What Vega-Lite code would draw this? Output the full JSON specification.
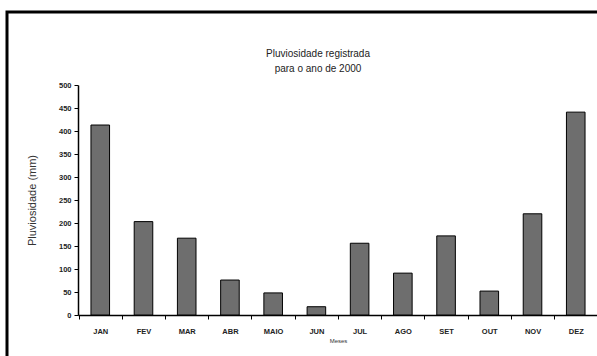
{
  "$schema": "https://vega.github.io/schema/vega-lite/v6.json",
  "width": 600,
  "height": 360,
  "autosize": {"type": "none"},
  "padding": {"left": 7, "top": 12, "right": -10, "bottom": -16},
  "background": "white",
  "title": {
    "text": ["Pluviosidade registrada", "para o ano de 2000"],
    "offset": -62,
    "dx": 11,
    "fontSize": 10,
    "font": "Liberation Sans",
    "fontWeight": "normal",
    "color": "#222222",
    "lineHeight": 15
  },
  "data": {
    "values": [
      {"mes": "JAN", "chuva": 413},
      {"mes": "FEV", "chuva": 203},
      {"mes": "MAR", "chuva": 167},
      {"mes": "ABR", "chuva": 76},
      {"mes": "MAIO", "chuva": 48},
      {"mes": "JUN", "chuva": 18},
      {"mes": "JUL", "chuva": 156},
      {"mes": "AGO", "chuva": 91},
      {"mes": "SET", "chuva": 172},
      {"mes": "OUT", "chuva": 52},
      {"mes": "NOV", "chuva": 220},
      {"mes": "DEZ", "chuva": 441}
    ]
  },
  "mark": {"type": "bar", "fill": "#6e6e6e", "stroke": "black", "strokeWidth": 1},
  "encoding": {
    "x": {
      "field": "mes",
      "type": "nominal",
      "sort": null,
      "scale": {"range": [71, 591], "paddingInner": 0.57, "paddingOuter": 0.3},
      "axis": {
        "offset": -57,
        "title": "Meses",
        "titleFontSize": 6,
        "titleFont": "Liberation Sans",
        "titleFontWeight": "normal",
        "titleColor": "#333333",
        "titlePadding": 3,
        "labelAngle": 0,
        "labelFontSize": 7.5,
        "labelFont": "Liberation Sans",
        "labelFontWeight": "bold",
        "labelColor": "#222222",
        "labelPadding": 8,
        "tickOffset": -21.7,
        "labelOffset": 21.7,
        "tickSize": 4,
        "tickColor": "black",
        "domainColor": "black",
        "domainWidth": 1.5,
        "grid": false
      }
    },
    "y": {
      "field": "chuva",
      "type": "quantitative",
      "scale": {"domain": [0, 500], "range": [303, 73], "nice": false},
      "axis": {
        "offset": -71,
        "title": "Pluviosidade (mm)",
        "titleFontSize": 11,
        "titleFont": "Liberation Sans",
        "titleFontWeight": "normal",
        "titleColor": "#333333",
        "titlePadding": 21,
        "values": [0, 50, 100, 150, 200, 250, 300, 350, 400, 450, 500],
        "labelFontSize": 7.5,
        "labelFont": "Liberation Sans",
        "labelFontWeight": "bold",
        "labelColor": "#222222",
        "labelPadding": 3,
        "tickSize": 4,
        "tickColor": "black",
        "domainColor": "black",
        "domainWidth": 1.5,
        "grid": false
      }
    }
  },
  "config": {"view": {"stroke": "black", "strokeWidth": 3}}
}
